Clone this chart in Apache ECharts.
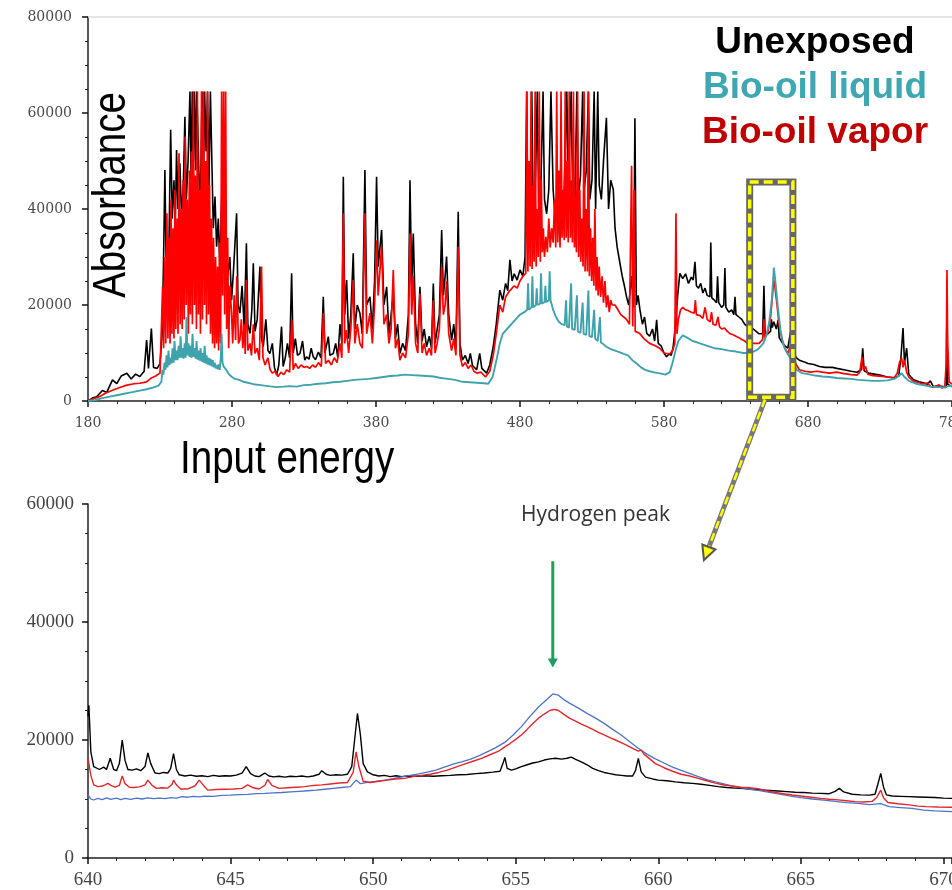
<!DOCTYPE html>
<html><head><meta charset="utf-8">
<script src="https://cdn.jsdelivr.net/npm/echarts@6/dist/echarts.min.js"></script>
<style>html,body{margin:0;padding:0;background:#fff}#c{width:952px;height:890px}</style>
</head><body><div id="c"></div>
<script>
// ---------- Top panel (full spectrum) ----------
const topXTicks = [180, 280, 380, 480, 580, 680, 780];
const topYTicks = [0, 20000, 40000, 60000, 80000];
const unexposedTop = [
[180,0],[183,600],[186,900],[190,2200],[193,1800],[197,4400],[200,3600],[203,5200],[207,5800],[210,4600],[213,5600],[216,5100],[219,6200],[220.7,12700],[222,6800],[224,15100],[225.5,7000],[228,6800],[230,7800],
[231.5,14000],[232.5,30000],[233.4,48100],[234.2,30000],[235,33500],[236,28000],[237.4,56500],[238.5,38000],[239.7,46000],[240.6,36000],[241.5,52300],[242.5,40000],[243.8,49500],[245,38000],[246.2,45000],[247.3,59200],[248.3,42000],[249.5,50000],[250.8,64500],[251.6,46000],[252.4,64500],[253.2,50000],[254,64500],[254.8,48000],[255.6,64500],[256.6,64500],[257.7,39100],[258.5,50000],[259.2,64500],[260.2,47000],[261,64500],[262,52000],[263,64500],[264,45000],[265,64500],[266,64500],[267,36000],[268.2,42600],[269.3,32150],[270.5,38000],[271.5,28000],[273,44000],[274,30000],[275.5,36000],[277,26000],[278.5,30000],[279.7,21000],[281,27000],[283.2,39100],[284.2,20000],[285.5,18300],[287,24000],[288.5,15000],[290,32850],[291,16000],[292.5,14100],[293.8,19000],[294.8,28700],[296,14500],[297.5,17000],[299.4,28000],[300.5,13000],[301.7,11300],[303.5,17000],[305,10500],[306.3,9900],[308,12000],[309.5,7000],[311,5400],[312.5,7500],[314.4,15500],[315.5,7200],[317,9000],[318.5,12000],[320,9000],[321.4,26600],[322.5,10000],[324,13000],[325.5,9500],[327.2,9900],[329,12500],[330.5,8500],[331.8,9200],[333.5,8700],[335,11000],[336.4,9200],[338,8600],[340,10200],[341.8,9000],[343.4,21700],[344.5,10000],[346.9,13400],[348,9500],[350.3,9900],[352,12000],[353.5,9000],[355,16000],[356.3,12000],[357.3,46700],[358.3,18000],[359.6,25200],[361,13000],[362.5,18000],[364.2,30800],[365.3,15000],[367,20000],[368.8,18300],[370.5,14000],[372.3,48100],[373.5,20000],[375.8,21700],[377.5,15000],[379,25000],[380.4,46700],[381.5,28000],[383.9,35600],[385.5,20000],[387.4,23800],[389,14000],[390.5,18000],[392,22400],[393.5,13000],[395,16000],[396.6,9900],[398.5,12000],[400.5,10500],[402.5,18000],[403.6,46000],[404.8,24000],[405.9,34900],[407.5,16000],[409,12000],[410.5,23800],[412,12500],[413.5,15000],[415.1,11300],[417,13500],[418.5,11000],[419.8,24500],[421,12000],[422.5,15000],[424,18000],[425.6,35600],[426.8,22000],[428,26000],[429,30100],[430.5,18000],[432.5,12700],[434,16000],[435.5,11000],[437.1,39400],[438.3,12000],[440,8500],[442,9500],[444,7800],[445.5,9900],[447,7400],[449.9,6500],[452,9900],[453.5,6800],[456.8,5800],[459,7500],[461.4,11300],[463.5,16000],[466,23100],[468,21000],[470,24500],[471.5,23000],[473,29400],[474.5,25000],[476,26500],[478,25200],[480,27300],[482,26000],[483.5,30000],[484.6,64500],[485.6,33000],[487,36000],[488.2,64500],[489.2,38000],[490.5,42000],[492,64500],[493,40000],[494.5,45000],[496,64500],[497,42000],[498.5,39000],[500,44000],[501.5,64500],[503,44000],[504.5,38000],[506,40000],[507.7,33500],[509,38000],[510.5,42000],[512.5,64500],[513.5,44000],[515.5,64500],[516.5,45000],[518,40000],[519.5,64500],[520.5,42000],[522,47000],[523.5,64500],[524.5,44000],[526,48000],[527.5,64500],[528.5,42000],[530,46000],[531.5,64500],[532.5,40000],[534,64500],[535,45000],[536.5,42000],[538,50000],[540,59000],[541.5,40000],[543,46000],[544.8,44000],[546,36000],[547.5,32000],[549.4,28700],[551,26000],[552.5,24000],[554,21700],[555.5,20000],[557.5,26000],[558.8,19500],[559.8,58900],[560.8,20000],[562,22000],[563.3,19000],[565,16000],[566.5,17500],[568,14100],[570,13500],[572,15000],[573.5,12500],[574.9,16900],[576,12000],[578,11500],[580,10000],[581.8,9200],[583.5,9800],[585,9500],[586.4,11300],[588,16000],[589.5,22000],[591,26600],[593,25500],[595,26500],[597,24500],[599,25800],[600.3,25200],[601.5,29000],[602.5,24000],[604,23500],[605.5,24500],[607,22500],[608.5,23500],[610,22000],[611.9,21700],[612.5,33000],[613.2,21500],[615,21000],[616.5,20500],[617.2,26000],[618,20500],[620,19500],[621.5,20000],[622.3,27700],[623,19500],[625,18500],[627,19000],[628.5,18000],[629.3,21700],[630,18000],[632,17500],[634,17000],[636,16000],[638,15500],[639.3,15800],[639.8,22000],[640.3,15500],[642,15000],[644,14500],[646,14000],[648.5,14000],[649.4,24000],[650.2,14000],[652,14000],[654,14500],[654.6,17000],[655.2,15300],[656.3,16500],[657,16800],[658,15000],[659.3,16900],[660,13200],[662,12200],[664,11500],[666,11000],[667.8,14300],[668.5,10500],[670,10100],[672,9000],[674,8500],[677,8200],[680,7800],[684,7600],[688,7200],[692,7000],[697,7000],[700,6800],[705,6500],[710,6200],[714,6000],[717,6500],[718,11000],[719,6300],[722,5800],[726,5600],[730,5400],[735,5000],[740,4800],[743,5200],[744.5,9000],[746,15200],[747,8000],[748.5,11000],[750,5500],[753,4500],[757,4000],[760,3800],[763,3500],[765,4200],[767,3000],[770,3100],[774,3000],[776,2800],[776.5,20000],[777,3500],[780,3000]
];
const vaporTop = [
[180,0],[184,500],[188,900],[192,1600],[197.5,2300],[202,2800],[207,3300],[212,3600],[216,3700],[220.7,4000],[224,4800],[227,5200],[230,5800],
[231,6000],[231.8,23800],[232.5,11000],[233.2,30000],[234,12000],[234.8,39100],[235.5,13000],[236.2,34000],[237,12000],[237.6,42000],[238.3,14000],[239,36000],[239.7,13000],[240.4,44000],[241,15000],[241.8,38000],[242.5,14000],[243.2,51600],[244,16000],[244.7,40000],[245.4,15000],[246.1,46000],[246.8,17000],[247.5,55100],[248.2,20000],[249,42000],[249.7,14000],[250.4,48000],[251.1,18000],[251.8,52000],[252.5,16000],[253.2,64500],[253.9,20000],[254.6,47000],[255.3,15000],[256,64500],[256.7,18000],[257.4,44000],[258.1,14000],[258.8,64500],[259.5,17000],[260.2,64500],[260.9,20000],[261.6,50000],[262.3,16000],[263,64500],[263.7,18000],[264.4,45000],[265.1,14000],[265.8,38000],[266.5,12000],[267.2,34000],[267.9,11000],[268.6,30000],[269.3,12000],[270,28000],[270.7,10500],[271.4,33000],[272.1,12000],[272.8,64500],[273.5,22000],[274.2,64500],[274.9,18000],[275.6,64500],[276.3,15000],[277,34000],[277.7,11000],[278.5,24000],
[279.7,18300],[280.5,12000],[281.5,22000],[282.5,12700],[283.3,26000],[284.5,12000],[285.5,12700],[286.5,17000],[287.5,11000],[288.5,16000],[289.2,9800],[290,25200],[291,10500],[292.5,12000],[293.5,9500],[294.8,16000],[296,9900],[297.5,11000],[299,8500],[300.5,28000],[301.5,9000],[303,7500],[305,9000],[306.5,6500],[308,5800],[310,6200],[312,5100],[314,6000],[316,5500],[318,6500],[320,6000],[321.5,16900],[322.5,6500],[324,7800],[326,6800],[328,7500],[330,7000],[332,7200],[334,6800],[336,7500],[338,7000],[340,8000],[342,7200],[343.5,18300],[345,7800],[347,8500],[349,7500],[351,9000],[353,8000],[355,12000],[356.3,9000],[357.3,39100],[358.3,12000],[359.6,14800],[361,10000],[362.5,15000],[364.2,25200],[365.3,12000],[367,16000],[368.8,12000],[370.5,11000],[372.3,39100],[373.5,14000],[375.8,18300],[377.5,12000],[379,20000],[380.4,33500],[381.5,22000],[383.9,32150],[385.5,16000],[387.4,18000],[389,12000],[390.5,15000],[392,27300],[393.5,11000],[395,13000],[396.6,8500],[398.5,10000],[400.5,9000],[402.5,14000],[403.6,34900],[404.8,18000],[405.9,26000],[407.5,12000],[409,10000],[410.5,22400],[412,10000],[413.5,12000],[415.1,9500],[417,11000],[418.5,9500],[419.8,21000],[421,10000],[422.5,12000],[424,15000],[425.6,28000],[426.8,18000],[428,20000],[429,25000],[430.5,14000],[432.5,10500],[434,13000],[435.5,9500],[437.1,32150],[438.3,9500],[440,7200],[442,8000],[444,6800],[446,7500],[448,6200],[450,5800],[453,6000],[456,5000],[459,6200],
[461.4,9500],[463.5,14000],[466,20000],[468,18500],[470,21700],[473,23000],[476,24000],[478,23500],[480,25000],[482,26000],[484,26600],
[484.8,64500],[485.5,27000],[486.3,50000],[487,28000],[487.7,64500],[488.4,27500],[489.1,45000],[489.8,29000],[490.5,64500],[491.2,28000],[492,40000],[492.7,30000],[493.4,64500],[494.1,29000],[494.8,46000],[495.5,31000],[496.2,36000],[497,30000],[498,34200],[499,31000],[500,38000],[501,32000],[502,36000],[503,33000],[504,42000],[504.8,32000],[505.5,64500],[506.2,33000],[507,48000],[507.8,32000],[508.5,64500],[509.2,34000],[510,44000],[510.7,33500],[511.4,64500],[512.1,34000],[512.8,50000],[513.5,33000],[514.2,64500],[515,34000],[515.7,46000],[516.4,33000],[517.1,64500],[517.8,32000],[518.5,42000],[519.2,31000],[520,64500],[520.7,30000],[521.5,44000],[522.2,29000],[523,38000],[523.8,28000],[524.5,64500],[525.2,27000],[526,40000],[526.8,27000],[527.5,64500],[528.2,26000],[529,36000],[529.8,25000],[530.5,34000],[531.3,24000],[532,40000],[532.8,23000],[533.5,30000],[534.3,22000],[535,28000],[536,21700],[537,26000],[538,20500],[539,25000],[540,19500],[541,22000],[542,18500],[543,21000],[544,20000],[546,20000],[548,19000],[550,18000],[552,17500],[554,17000],[556,16000],[557.5,49000],[558.3,15500],[559.3,44000],[560,14500],[563,14100],[566,13000],[570,12000],[574,11500],[577,11000],[580,10000],[582,9900],[584,9800],[586,10500],[587.5,12000],[588.3,39100],[589,14000],[590,17000],[591.5,19000],[593,19500],[595,19000],[597,18800],[599,18500],[601,18300],[601.8,21000],[602.5,18000],[605,17800],[607,17200],[608.5,19500],[610,17000],[612,16500],[613,18500],[614,16000],[616,15800],[617.5,17500],[618.5,15500],[620,15000],[622,15200],[624,14500],[626,14000],[628,13800],[630,13500],[632,13200],[634,12800],[636,12500],[638,12000],[640,12000],[642,12000],[646,12000],[648.5,12800],[649.4,17000],[650,13000],[652,14200],[654,17500],[655.5,22500],[656.3,25200],[657,23900],[658.5,20000],[660,15800],[662,12700],[664,11000],[666,9900],[667.8,11500],[668.5,9200],[670,8600],[672,7500],[674,6500],[678,6200],[682,6000],[686,6200],[690,6000],[695,5800],[700,6000],[705,5700],[710,5500],[714,5400],[716,6000],[717.5,9200],[718.5,6500],[720,7200],[721.5,5600],[725,5300],[730,5200],[735,5000],[740,4900],[742,5800],[743.5,8000],[745,9000],[746,7000],[747,8500],[748.5,6000],[750,5000],[753,4200],[757,3800],[760,3500],[763,3800],[765,3000],[768,2900],[771,3400],[773,2700],[775,3000],[776,8000],[776.5,27300],[777,12000],[778,4000],[780,3500]
];
const liquidTop = [
[180,0],[185,200],[190,600],[195,900],[200,1200],[205,1500],[210,1800],[215,2100],[220,2400],[225,2800],[229,3200],
[231,4000],[231.7,6500],[232.4,5500],[233.1,8000],[233.8,6500],[234.5,9500],[235.2,7000],[235.9,10500],[236.6,7500],[237.3,9000],[238,7800],[238.7,11000],[239.4,8000],[240.1,12500],[240.8,8500],[241.5,10500],[242.2,8500],[242.9,11500],[243.6,9000],[244.3,13500],[245,9000],[245.7,11000],[246.4,8800],[247.1,12000],[247.8,9000],[248.4,17500],[249.1,9500],[249.8,12000],[250.5,9200],[251.2,11500],[251.9,9000],[252.6,14000],[253.3,9200],[254,11000],[254.7,8800],[255.4,12500],[256.1,8600],[256.8,10500],[257.5,8400],[258.2,11000],[258.9,8200],[259.6,10000],[260.3,8000],[261,11500],[261.7,7800],[262.4,9500],[263.1,7600],[263.8,9000],[264.5,7400],[265.2,8800],[265.9,7200],[266.6,8500],[267.3,7000],[268,8000],[268.7,6800],[269.4,7500],[270.1,6600],[270.8,7600],[271.5,6500],[272.2,9000],[272.8,14000],[273.4,8000],[274.2,7200],[275,6800],[276,6500],
[278,5500],[280,5000],[282,4600],[285,4400],[288,4000],[291,3800],[295,3500],[300,3300],[305,3100],[311,2900],[316,3000],[320,3100],[325,3000],[330,3300],[335,3400],[340,3600],[345,3700],[350,3900],[355,4000],[360,4200],[365,4400],[370,4500],[375,4600],[380,4800],[385,5000],[390,5200],[395,5300],[400,5500],[405,5400],[410,5300],[415,5200],[420,5100],[425,4800],[430,4600],[435,4400],[440,4000],[445,3900],[450,3800],[455,3700],[458,3600],
[461,5000],[464,9000],[466,12000],[468,14000],[471,15000],[474,16000],[477,17000],[480,18000],[483,18500],[485,19000],[485.6,24500],[486.2,19000],[488,19500],[488.6,26000],[489.2,19500],[491,20000],[491.6,23500],[492.2,20000],[494,20300],[494.6,26600],[495.2,20300],[497,20600],[497.6,24000],[498.2,20600],[500,21000],[500.6,27000],[501.2,21000],[503,19000],[505,17500],[507,16500],[509,16000],[511,15800],[512,21000],[512.6,15500],[514,15300],[515.5,24500],[516.2,15000],[518,14800],[519.5,22000],[520.2,14500],[522,14200],[523.5,20500],[524.2,14000],[526,13800],[527.5,23000],[528.2,13500],[530,13300],[531.5,19000],[532.2,13000],[534,12500],[535.5,17500],[536.2,12200],[538,11800],[540,11300],[543,10800],[546,10500],[549,10200],[552,9800],[555,9500],[558,8500],[561,7800],[564,7000],[567,6500],[570,6200],[574,5900],[578,5700],[581,5500],[584,6000],[586,8000],[588,10500],[590,12500],[593,13700],[596,13200],[600,12500],[605,12000],[610,11500],[615,11000],[620,10800],[625,10500],[630,10300],[635,10000],[640,10000],[645,10700],[649,12000],[651,13600],[653,16300],[655,21500],[656.3,27800],[657.5,24500],[659,19700],[661,14500],[663,11650],[665,10250],[667,9250],[669,8300],[672,6500],[676,5800],[680,5600],[685,5300],[690,5100],[695,5000],[700,4800],[705,4700],[710,4600],[715,4400],[720,4300],[725,4200],[730,4200],[735,4300],[740,4600],[743,5200],[745,5800],[747,5000],[750,4200],[755,3600],[760,3300],[765,3000],[770,2900],[775,2800],[778,3200],[780,3000]
];

// ---------- Bottom panel (zoom 640-670) ----------
const bottomXTicks = [640, 645, 650, 655, 660, 665, 670];
const bottomYTicks = [0, 20000, 40000, 60000];
const unexposedZoom = [
[640.0,24000],[640.03,25900],[640.1,18000],[640.2,15500],[640.4,15000],[640.55,15400],[640.65,15000],[640.78,16900],[640.9,15000],[641.0,14800],[641.1,16000],[641.2,20000],[641.3,16500],[641.4,15000],[641.55,14900],[641.7,15100],[641.85,14800],[642.0,15500],[642.1,17800],[642.2,16000],[642.35,14400],[642.5,14300],[642.65,14500],[642.8,14400],[642.9,15200],[643.0,17700],[643.1,15000],[643.2,14100],[643.4,13900],[643.6,14050],[643.8,13850],[644.0,13950],[644.2,13800],[644.4,14000],[644.6,13850],[644.8,13950],[645.0,13900],[645.2,14050],[645.4,14400],[645.55,15500],[645.7,14300],[645.85,13900],[646.0,13800],[646.2,14400],[646.35,13900],[646.5,13750],[646.7,13850],[646.9,13700],[647.1,13850],[647.3,13800],[647.5,13900],[647.7,13750],[647.9,13900],[648.1,14200],[648.2,14800],[648.35,14200],[648.5,14000],[648.7,14100],[648.9,14050],[649.1,14200],[649.25,15500],[649.35,20000],[649.45,24500],[649.55,21000],[649.65,16000],[649.8,14600],[650.0,14100],[650.2,13900],[650.4,14000],[650.6,13800],[650.8,13950],[651.0,13800],[651.2,13900],[651.5,13850],[651.8,13950],[652.1,13850],[652.4,13950],[652.7,14000],[653.0,14100],[653.3,14150],[653.6,14300],[653.9,14400],[654.2,14550],[654.45,14700],[654.55,16000],[654.62,17060],[654.7,15200],[654.85,14900],[655.0,15100],[655.2,15500],[655.4,15800],[655.6,16100],[655.8,16300],[656.0,16600],[656.2,16800],[656.4,16900],[656.6,16750],[656.8,16900],[656.95,17100],[657.1,16700],[657.3,16300],[657.5,15800],[657.7,15200],[657.9,14800],[658.1,14500],[658.3,14300],[658.5,14100],[658.7,14000],[658.9,13900],[659.1,13900],[659.2,14800],[659.3,16900],[659.4,14600],[659.55,13700],[659.8,13400],[660.0,13200],[660.3,13100],[660.6,12900],[660.9,12750],[661.2,12650],[661.5,12500],[661.8,12300],[662.1,12100],[662.4,11950],[662.7,11850],[663.0,11750],[663.3,11650],[663.6,11550],[663.9,11450],[664.2,11350],[664.5,11250],[664.8,11150],[665.1,11100],[665.4,11000],[665.7,10950],[666.0,10900],[666.2,11300],[666.35,11800],[666.5,11200],[666.8,10800],[667.1,10700],[667.4,10650],[667.6,10800],[667.7,12500],[667.8,14350],[667.9,12000],[668.0,10700],[668.2,10500],[668.5,10450],[668.8,10400],[669.1,10350],[669.4,10300],[669.7,10250],[670.0,10150],[670.3,10100]
];
const vaporZoom = [
[640.0,16900],[640.1,14000],[640.2,12400],[640.35,12100],[640.5,12200],[640.6,12400],[640.7,12650],[640.8,12300],[640.95,12000],[641.1,12300],[641.2,13900],[641.3,12600],[641.45,12000],[641.6,11950],[641.8,12050],[642.0,12400],[642.1,13200],[642.25,12300],[642.4,11800],[642.6,11900],[642.8,11850],[642.95,12500],[643.0,13200],[643.1,12400],[643.25,11700],[643.5,11700],[643.75,12200],[643.9,13200],[644.05,12300],[644.2,11500],[644.5,11600],[644.8,11650],[645.1,11700],[645.4,11800],[645.6,12400],[645.8,11900],[646.0,11700],[646.2,12300],[646.3,13300],[646.45,12300],[646.7,11800],[647.0,11900],[647.3,12000],[647.6,12100],[647.9,12300],[648.2,12400],[648.5,12550],[648.8,12700],[649.1,12800],[649.3,14500],[649.4,18000],[649.5,15500],[649.65,13000],[649.9,12800],[650.2,13000],[650.5,13200],[650.8,13400],[651.1,13500],[651.4,13800],[651.7,14000],[652.0,14200],[652.3,14500],[652.6,14900],[652.9,15400],[653.2,15900],[653.5,16400],[653.8,16900],[654.1,17500],[654.4,18100],[654.6,18800],[654.8,19400],[655.0,20100],[655.2,20850],[655.4,21800],[655.6,22800],[655.8,23700],[656.0,24400],[656.2,25000],[656.35,25200],[656.5,25000],[656.7,24300],[656.9,23670],[657.1,23200],[657.3,22700],[657.5,22260],[657.7,21800],[657.9,21300],[658.1,20850],[658.3,20400],[658.5,20000],[658.7,19550],[658.9,19100],[659.1,18600],[659.3,18100],[659.4,18300],[659.5,17600],[659.7,16800],[659.9,16000],[660.2,15300],[660.5,14700],[660.8,14200],[661.1,13900],[661.4,13500],[661.7,13100],[662.0,12700],[662.3,12370],[662.6,12200],[662.9,12000],[663.2,11900],[663.5,11750],[663.8,11400],[664.1,11100],[664.4,10900],[664.7,10680],[665.0,10500],[665.3,10350],[665.7,10110],[666.0,9950],[666.3,9850],[666.6,9700],[666.9,9550],[667.2,9500],[667.5,9600],[667.65,10200],[667.8,11500],[667.9,10200],[668.05,9400],[668.4,9200],[668.8,9000],[669.1,8800],[669.4,8700],[669.8,8650],[670.3,8600]
];
const liquidZoom = [
[640.0,10680],[640.1,10000],[640.2,9830],[640.35,10100],[640.5,9900],[640.65,10200],[640.8,9950],[641.0,10150],[641.15,9900],[641.3,10100],[641.5,9950],[641.7,10150],[641.9,10000],[642.1,10200],[642.3,10050],[642.5,10150],[642.7,10050],[642.9,10250],[643.1,10150],[643.3,10400],[643.5,10300],[643.7,10450],[643.9,10350],[644.1,10500],[644.4,10450],[644.7,10600],[645.0,10650],[645.3,10750],[645.6,10800],[645.9,10900],[646.2,10950],[646.5,11050],[646.8,11100],[647.1,11200],[647.4,11300],[647.7,11400],[648.0,11500],[648.3,11650],[648.6,11800],[648.9,11950],[649.2,12100],[649.4,13200],[649.55,12600],[649.8,12800],[650.1,13000],[650.4,13200],[650.7,13450],[651.0,13750],[651.3,14000],[651.6,14250],[651.9,14550],[652.2,14900],[652.5,15400],[652.8,15900],[653.1,16300],[653.4,16720],[653.7,17300],[654.0,18000],[654.3,18700],[654.6,19550],[654.9,20800],[655.2,22260],[655.5,24000],[655.8,25600],[656.1,26900],[656.3,27800],[656.5,27600],[656.7,26800],[656.9,26210],[657.2,25400],[657.5,24520],[657.8,23700],[658.1,22820],[658.4,21800],[658.7,20850],[659.0,19700],[659.3,18600],[659.6,17600],[659.9,16800],[660.2,16100],[660.5,15400],[660.8,14850],[661.1,14350],[661.4,13800],[661.7,13300],[662.0,12900],[662.3,12550],[662.6,12200],[662.9,11900],[663.2,11650],[663.5,11450],[663.8,11200],[664.1,10950],[664.4,10700],[664.7,10450],[665.0,10250],[665.4,10000],[665.8,9800],[666.2,9600],[666.6,9400],[667.0,9250],[667.4,9050],[667.8,9200],[668.1,8700],[668.5,8550],[668.9,8400],[669.3,8130],[669.7,8000],[670.3,7850]
];

// ---------- Annotations (data coordinates) ----------
const legendItems = ['Unexposed', 'Bio-oil liquid', 'Bio-oil vapor'];
const legendColors = ['#000000', '#3fa7b1', '#c00000'];
const zoomBox = {x0: 639.5, x1: 669.5, y0: 800, y1: 45600};
const peakArrow = {x: 656.3, yFrom: 50300, yTo: 32300, label: 'Hydrogen peak', labelY: 58100};

const chart = echarts.init(document.getElementById('c'), null, {renderer: 'canvas'});

const serifSmall = {fontFamily: '"DejaVu Serif", serif', fontSize: 14, color: '#4a4a4a'};
const serifBig = {fontFamily: '"Liberation Serif", serif', fontSize: 19, color: '#444'};

function lineSeries(name, data, color, width, idx, z) {
  return {type: 'line', name, data, xAxisIndex: idx, yAxisIndex: idx, showSymbol: false, symbol: 'none',
    lineStyle: {color, width}, itemStyle: {color}, silent: true, animation: false, z};
}

function xAxisCfg(idx, ticks, minorSplit, label, max, margin) {
  return {gridIndex: idx, type: 'value', min: ticks[0], max: max, interval: ticks[1] - ticks[0],
    axisLine: {onZero: false, lineStyle: {color: '#222', width: 1.5}},
    axisTick: {show: true, length: 6, lineStyle: {color: '#111', width: 1.5}},
    minorTick: {show: true, splitNumber: minorSplit, length: 3, lineStyle: {color: '#222', width: 1}},
    splitLine: {show: false},
    axisLabel: Object.assign({margin: margin, hideOverlap: false,
      formatter: v => (ticks.indexOf(Math.round(v * 1000) / 1000) >= 0 ? String(v) : '')}, label)};
}
function yAxisCfg(idx, ticks, label, margin) {
  return {gridIndex: idx, type: 'value', min: ticks[0], max: ticks[ticks.length - 1], interval: ticks[1] - ticks[0],
    axisLine: {show: true, lineStyle: {color: '#222', width: 1.5}},
    axisTick: {show: true, length: 6, lineStyle: {color: '#111', width: 1.5}},
    minorTick: {show: true, splitNumber: 4, length: 3, lineStyle: {color: '#222', width: 1}},
    splitLine: {show: false},
    axisLabel: Object.assign({margin: margin, formatter: v => String(v)}, label)};
}

chart.setOption({
  animation: false,
  backgroundColor: '#fff',
  grid: [
    {left: 88, top: 17, width: 864, height: 384, containLabel: false, outerBoundsMode: 'none'},
    {left: 88, top: 504, width: 864, height: 354, containLabel: false, outerBoundsMode: 'none'}
  ],
  xAxis: [
    xAxisCfg(0, topXTicks, 5, serifSmall, topXTicks[topXTicks.length - 1], 15),
    xAxisCfg(1, bottomXTicks, 5, serifBig, 670.3, 13)
  ],
  yAxis: [
    yAxisCfg(0, topYTicks, serifSmall, 16),
    yAxisCfg(1, bottomYTicks, serifBig, 14)
  ],
  series: [
    Object.assign(lineSeries('Unexposed', unexposedTop, '#000000', 1.6, 0, 2), {
      markLine: {silent: true, symbol: 'none', label: {show: false}, animation: false,
        lineStyle: {color: '#dcdcdc', width: 1.5, type: 'solid'}, data: [{yAxis: topYTicks[topYTicks.length - 1]}]}
    }),
    lineSeries('Bio-oil vapor', vaporTop, '#ff0000', 1.7, 0, 3),
    lineSeries('Bio-oil liquid', liquidTop, '#3fa3ad', 1.9, 0, 4),
    lineSeries('Unexposed', unexposedZoom, '#000000', 1.4, 1, 2),
    lineSeries('Bio-oil liquid', liquidZoom, '#4a74c8', 1.3, 1, 3),
    lineSeries('Bio-oil vapor', vaporZoom, '#e3262b', 1.4, 1, 4)
  ]
});

// ---------- graphic annotations positioned from data coordinates ----------
const P = (g, x, y) => chart.convertToPixel({gridIndex: g}, [x, y]);
const b0 = P(0, zoomBox.x0, zoomBox.y1), b1 = P(0, zoomBox.x1, zoomBox.y0);
const aStart = P(0, 650.1, 300);
const aEnd = P(1, 661.6, 50500);
const dx = aEnd[0] - aStart[0], dy = aEnd[1] - aStart[1], L = Math.hypot(dx, dy);
const ux = dx / L, uy = dy / L, nx = -uy, ny = ux;
const headLen = 14, headW = 7;
const hb = [aEnd[0] - ux * headLen, aEnd[1] - uy * headLen];
const g0 = P(1, peakArrow.x, peakArrow.yFrom), g1 = P(1, peakArrow.x, peakArrow.yTo);
const gl = P(1, peakArrow.x + 1.5, peakArrow.labelY);

const sansFont = '"Liberation Sans", Arial, sans-serif';
const elements = [
  {type: 'rect', shape: {x: b0[0], y: b0[1], width: b1[0] - b0[0], height: b1[1] - b0[1]},
    style: {fill: 'none', stroke: '#666', lineWidth: 7}, z: 100},
  {type: 'rect', shape: {x: b0[0], y: b0[1], width: b1[0] - b0[0], height: b1[1] - b0[1]},
    style: {fill: 'none', stroke: '#ffff00', lineWidth: 3.5, lineDash: [9, 5]}, z: 101},
  {type: 'line', shape: {x1: aStart[0], y1: aStart[1], x2: hb[0], y2: hb[1]},
    style: {stroke: '#777', lineWidth: 5}, z: 100},
  {type: 'line', shape: {x1: aStart[0], y1: aStart[1], x2: hb[0], y2: hb[1]},
    style: {stroke: '#ffff00', lineWidth: 2.5, lineDash: [8, 5]}, z: 101},
  {type: 'polygon', shape: {points: [aEnd, [hb[0] + nx * headW, hb[1] + ny * headW], [hb[0] - nx * headW, hb[1] - ny * headW]]},
    style: {fill: '#ffff00', stroke: '#555', lineWidth: 2}, z: 102},
  {type: 'line', shape: {x1: g0[0], y1: g0[1], x2: g1[0], y2: g1[1] - 8},
    style: {stroke: '#1f9e5c', lineWidth: 3}, z: 100},
  {type: 'polygon', shape: {points: [[g1[0], g1[1]], [g1[0] - 5, g1[1] - 9], [g1[0] + 5, g1[1] - 9]]},
    style: {fill: '#1f9e5c'}, z: 100},
  {type: 'text', x: gl[0], y: gl[1], style: {text: peakArrow.label, font: '21px "Open Sans", "Noto Sans", sans-serif',
    fill: '#333', align: 'center', verticalAlign: 'middle', textAlign: 'center', textVerticalAlign: 'middle'}, z: 100},
  {type: 'text', x: 112, y: 195, rotation: Math.PI / 2, scaleX: 0.82, style: {text: 'Absorbance', font: '47px ' + sansFont,
    fill: '#000', align: 'center', verticalAlign: 'middle', textAlign: 'center', textVerticalAlign: 'middle'}, z: 100},
  {type: 'text', x: 180, y: 460, scaleX: 0.82, style: {text: 'Input energy', font: '47px ' + sansFont,
    fill: '#000', align: 'left', verticalAlign: 'middle', textAlign: 'left', textVerticalAlign: 'middle'}, z: 100}
];
legendItems.forEach((t, i) => {
  elements.push({type: 'text', x: 815, y: 43 + i * 45, style: {text: t, font: 'bold 37px ' + sansFont,
    fill: legendColors[i], align: 'center', verticalAlign: 'middle', textAlign: 'center', textVerticalAlign: 'middle'}, z: 100});
});
chart.setOption({graphic: {elements}});
</script></body></html>
